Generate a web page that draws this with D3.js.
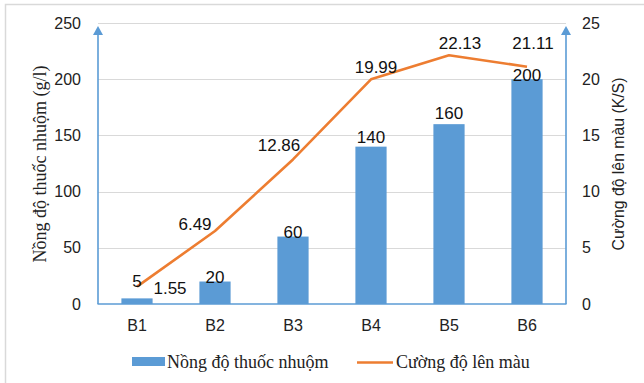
<!DOCTYPE html>
<html>
<head>
<meta charset="utf-8">
<script src="https://cdn.jsdelivr.net/npm/d3@7"></script>
<style>
  html, body { margin: 0; padding: 0; background: #fff; }
  svg { display: block; }
  .serif { font-family: "Liberation Serif", "Times New Roman", Times, serif; }
  .sans { font-family: "Liberation Sans", Arial, Helvetica, sans-serif; }
</style>
</head>
<body>
<svg id="chart" width="644" height="383"></svg>
<script>
// Batches and their measurements
const batches = ["B1", "B2", "B3", "B4", "B5", "B6"];
const dyeConcentration = [5, 20, 60, 140, 160, 200];          // g/l
const colorStrength = [1.55, 6.49, 12.86, 19.99, 22.13, 21.11]; // K/S
const leftTicks = [0, 50, 100, 150, 200, 250];
const rightTicks = [0, 5, 10, 15, 20, 25];
const barSeriesName = "Nồng độ thuốc nhuộm";
const lineSeriesName = "Cường độ lên màu";
const leftTitle = "Nồng độ thuốc nhuộm (g/l)";
const rightTitle = "Cường độ lên màu (K/S)";

const BLUE = "#5B9BD5", ORANGE = "#ED7D31", GRID = "#D9D9D9";
// serif face lacks some precomposed Vietnamese letters; use base + combining marks
const nfd = s => s.normalize("NFD");

const svg = d3.select("#chart");
const plot = { left: 98, right: 566, top: 23, bottom: 304 };

const x = d3.scaleBand().domain(batches)
  .range([plot.left, plot.right]).paddingInner(0.6).paddingOuter(0.3);
const cx = d => x(d) + x.bandwidth() / 2;
const yL = d3.scaleLinear().domain([0, 250]).range([plot.bottom, plot.top]);
const yR = d3.scaleLinear().domain([0, 25]).range([plot.bottom, plot.top]);

// frame
svg.append("path").attr("d", "M5.5,383 V4.5 H644")
  .attr("fill", "none").attr("stroke", GRID).attr("stroke-width", 1.5);

// gridlines
svg.append("g").selectAll("line").data(leftTicks.filter(t => t > 0)).join("line")
  .attr("x1", plot.left).attr("x2", plot.right)
  .attr("y1", d => Math.round(yL(d)) + 0.5).attr("y2", d => Math.round(yL(d)) + 0.5)
  .attr("stroke", GRID).attr("stroke-width", 1);

// bars
svg.append("g").selectAll("rect").data(batches).join("rect")
  .attr("x", d => x(d)).attr("width", x.bandwidth())
  .attr("y", (d, i) => yL(dyeConcentration[i]))
  .attr("height", (d, i) => plot.bottom - yL(dyeConcentration[i]))
  .attr("fill", BLUE);

// axes
const leftAxis = d3.axisLeft(yL).tickValues(leftTicks).tickSize(0).tickPadding(17);
const gL = svg.append("g").attr("transform", `translate(${plot.left},0)`).call(leftAxis);
const rightAxis = d3.axisRight(yR).tickValues(rightTicks).tickSize(0).tickPadding(16);
const gR = svg.append("g").attr("transform", `translate(${plot.right},0)`).call(rightAxis);
const bottomAxis = d3.axisBottom(x).tickSize(0).tickPadding(16);
const gB = svg.append("g").attr("transform", `translate(0,${plot.bottom})`).call(bottomAxis);
[gL, gR, gB].forEach(g => {
  g.select(".domain").remove();
  g.attr("font-family", null).attr("font-size", null);
  g.selectAll("text").attr("class", "sans").attr("font-size", 16).attr("fill", "#222");
});

// axis lines with arrowheads
const axisLines = svg.append("g").attr("stroke", BLUE).attr("stroke-width", 1.6).attr("fill", "none");
axisLines.append("line").attr("x1", plot.left - 0.5).attr("x2", plot.right + 0.5)
  .attr("y1", plot.bottom).attr("y2", plot.bottom);
[plot.left, plot.right].forEach(ax => {
  axisLines.append("line").attr("x1", ax).attr("x2", ax)
    .attr("y1", plot.bottom).attr("y2", plot.top + 10);
  svg.append("path")
    .attr("d", `M${ax},${plot.top + 3} L${ax - 5},${plot.top + 12} L${ax + 5},${plot.top + 12} Z`)
    .attr("fill", BLUE);
});

// line series
const line = d3.line().x((d, i) => cx(batches[i])).y(d => yR(d));
svg.append("path").datum(colorStrength).attr("d", line)
  .attr("fill", "none").attr("stroke", ORANGE).attr("stroke-width", 2.6)
  .attr("stroke-linejoin", "round");

// bar value labels, nudged clear of the line and its labels
const barLabelLift = [18, 4.5, 4.6, 10, 11, 4];
svg.append("g").selectAll("text").data(batches).join("text")
  .attr("class", "sans")
  .attr("x", d => cx(d))
  .attr("y", (d, i) => yL(dyeConcentration[i]) - barLabelLift[i])
  .attr("dy", "0.36em").attr("text-anchor", "middle")
  .attr("font-size", 17).attr("fill", "#111")
  .text((d, i) => dyeConcentration[i]);

// line value labels
const lineLabelShift = [[33, 1], [-20, -7], [-14, -14.5], [5, -12], [11, -12], [6, -24]];
svg.append("g").selectAll("text").data(batches).join("text")
  .attr("class", "sans")
  .attr("x", (d, i) => cx(d) + lineLabelShift[i][0])
  .attr("y", (d, i) => yR(colorStrength[i]) + lineLabelShift[i][1])
  .attr("dy", "0.36em").attr("text-anchor", "middle")
  .attr("font-size", 17).attr("fill", "#111")
  .text((d, i) => colorStrength[i].toFixed(2));

// axis titles
svg.append("text").attr("class", "serif").attr("transform", "translate(40,164) rotate(-90)")
  .attr("text-anchor", "middle").attr("dy", "0.36em")
  .attr("font-size", 18).attr("fill", "#222")
  .text(nfd(leftTitle));
svg.append("text").attr("class", "sans").attr("transform", "translate(618,164) rotate(-90)")
  .attr("text-anchor", "middle").attr("dy", "0.36em")
  .attr("font-size", 15.8).attr("fill", "#222")
  .text(rightTitle);

// legend
const legend = svg.append("g");
legend.append("rect").attr("x", 132).attr("y", 357).attr("width", 33).attr("height", 9).attr("fill", BLUE);
legend.append("text").attr("class", "serif").attr("x", 167).attr("y", 362).attr("dy", "0.36em")
  .attr("font-size", 18).attr("fill", "#222").text(nfd(barSeriesName));
legend.append("line").attr("x1", 357).attr("x2", 393).attr("y1", 362.5).attr("y2", 362.5)
  .attr("stroke", ORANGE).attr("stroke-width", 2.6);
legend.append("text").attr("class", "serif").attr("x", 396).attr("y", 362).attr("dy", "0.36em")
  .attr("font-size", 18).attr("fill", "#222").text(nfd(lineSeriesName));
</script>
</body>
</html>
